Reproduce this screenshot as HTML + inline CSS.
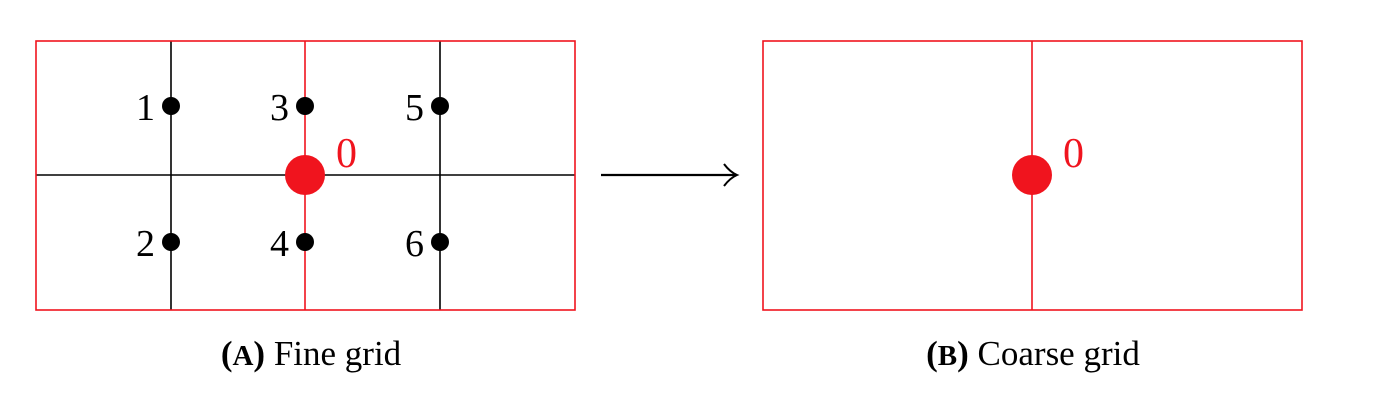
<!DOCTYPE html>
<html><head><meta charset="utf-8"><style>
html,body{margin:0;padding:0;background:#fff;width:1374px;height:416px;overflow:hidden}
svg text{font-family:"Liberation Serif",serif}
</style></head><body>
<svg width="1374" height="416" viewBox="0 0 1374 416">
<g>
  <line x1="36" y1="175" x2="575" y2="175" stroke="#000" stroke-width="1.6"/>
  <line x1="171" y1="41" x2="171" y2="310" stroke="#000" stroke-width="1.6"/>
  <line x1="440" y1="41" x2="440" y2="310" stroke="#000" stroke-width="1.6"/>
  <line x1="305" y1="41" x2="305" y2="310" stroke="#f0141e" stroke-width="1.6"/>
  <rect x="36" y="41" width="539" height="269" fill="none" stroke="#f0141e" stroke-width="1.6"/>
  <circle cx="171" cy="106" r="9" fill="#000"/>
  <circle cx="171" cy="242" r="9" fill="#000"/>
  <circle cx="305" cy="106" r="9" fill="#000"/>
  <circle cx="305" cy="242" r="9" fill="#000"/>
  <circle cx="440" cy="106" r="9" fill="#000"/>
  <circle cx="440" cy="242" r="9" fill="#000"/>
  <circle cx="305" cy="175" r="20" fill="#f0141e"/>
  <g font-size="38" fill="#000">
    <text x="155" y="120" text-anchor="end">1</text>
    <text x="155" y="256" text-anchor="end">2</text>
    <text x="289" y="120" text-anchor="end">3</text>
    <text x="289" y="256" text-anchor="end">4</text>
    <text x="424" y="120" text-anchor="end">5</text>
    <text x="424" y="256" text-anchor="end">6</text>
  </g>
  <text x="336" y="167" font-size="42" fill="#f0141e">0</text>
  <text x="311" y="365" font-size="35" text-anchor="middle"><tspan font-weight="bold">(<tspan font-size="29">A</tspan>)</tspan> Fine grid</text>
</g>
<g>
  <line x1="601" y1="175" x2="735" y2="175" stroke="#000" stroke-width="2.2"/>
  <path d="M724,164 Q730,172 737,175 Q730,178 724,186" fill="none" stroke="#000" stroke-width="2"/>
</g>
<g>
  <line x1="1032" y1="41" x2="1032" y2="310" stroke="#f0141e" stroke-width="1.6"/>
  <rect x="763" y="41" width="539" height="269" fill="none" stroke="#f0141e" stroke-width="1.6"/>
  <circle cx="1032" cy="175" r="20" fill="#f0141e"/>
  <text x="1063" y="167" font-size="42" fill="#f0141e">0</text>
  <text x="1033" y="365" font-size="35" text-anchor="middle"><tspan font-weight="bold">(<tspan font-size="29">B</tspan>)</tspan> Coarse grid</text>
</g>
</svg>
</body></html>
